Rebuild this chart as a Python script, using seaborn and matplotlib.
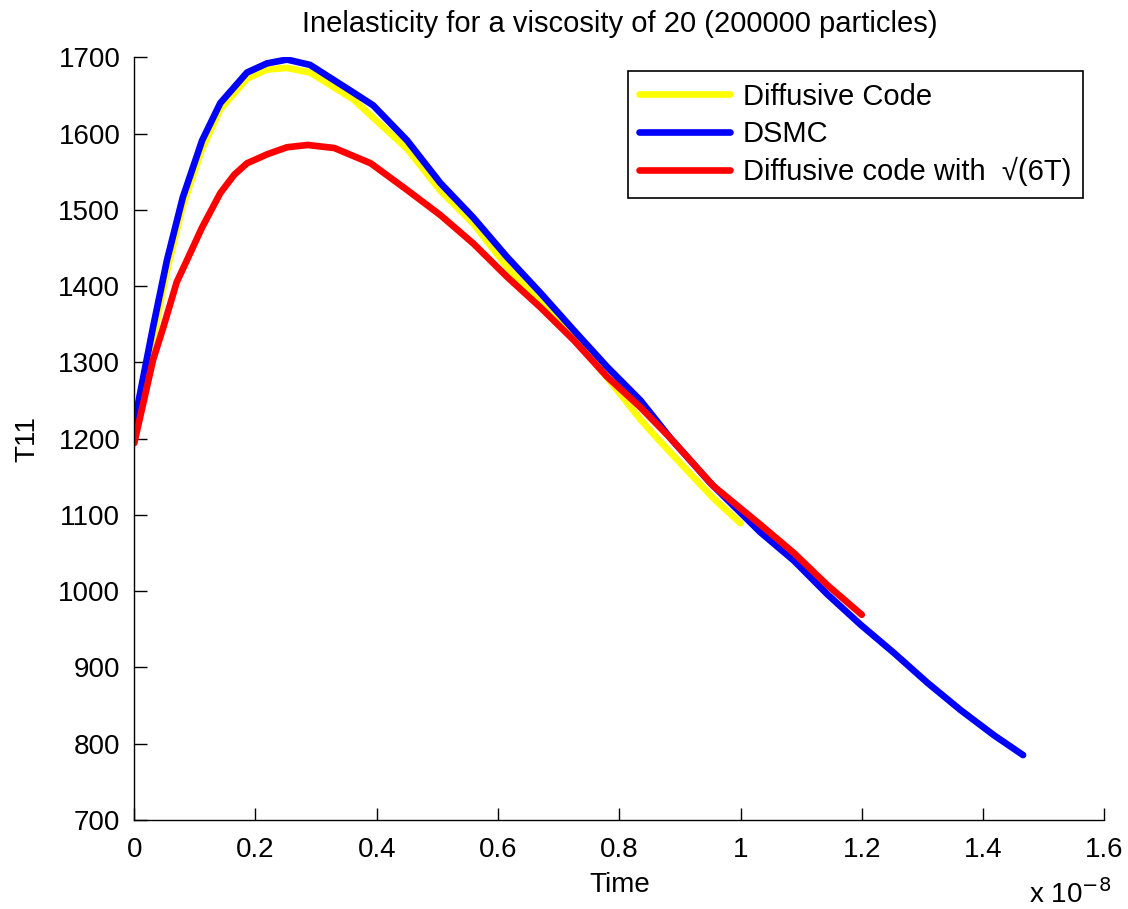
import numpy as np
import pandas as pd
import seaborn as sns
import matplotlib.pyplot as plt

# time in units of 1e-8
dsmc_t = [0, 0.031, 0.054, 0.08, 0.112, 0.142, 0.186, 0.219, 0.252, 0.29, 0.361,
          0.394, 0.45, 0.505, 0.559, 0.615, 0.67, 0.725, 0.78, 0.835, 0.885, 0.95, 1.01,
          1.033, 1.088, 1.143, 1.198, 1.253, 1.308, 1.363, 1.418, 1.466]
dsmc_v = [1220, 1346, 1434, 1516, 1591, 1640, 1680, 1692, 1697, 1690, 1654,
          1637, 1591, 1535, 1490, 1438, 1391, 1342, 1294, 1250, 1200, 1142, 1095,
          1077, 1040, 996, 956, 919, 880, 844, 811, 785]

diff_t = [0, 0.031, 0.054, 0.08, 0.112, 0.142, 0.186, 0.219, 0.252, 0.29, 0.361,
          0.45, 0.505, 0.559, 0.615, 0.67, 0.725, 0.78, 0.835, 0.863, 0.91, 0.955, 1.0]
diff_v = [1208, 1330, 1420, 1505, 1580, 1632, 1672, 1684, 1686, 1680, 1645,
          1580, 1525, 1482, 1425, 1378, 1333, 1280, 1225, 1200, 1160, 1122, 1089]

sqrt_t = [0, 0.031, 0.048, 0.07, 0.087, 0.112, 0.142, 0.165, 0.186, 0.22, 0.252, 0.286,
          0.33, 0.39, 0.45, 0.505, 0.559, 0.615, 0.67, 0.725, 0.78, 0.835, 0.885, 0.955,
          1.01, 1.033, 1.088, 1.143, 1.2]
sqrt_v = [1194, 1303, 1346, 1405, 1434, 1477, 1522, 1546, 1561, 1573, 1582, 1585,
          1581, 1561, 1526, 1493, 1456, 1412, 1372, 1329, 1281, 1241, 1200, 1138,
          1102, 1087, 1050, 1008, 969]

labels = ['Diffusive Code', 'DSMC', 'Diffusive code with  \u221a(6T)']
colors = ['#ffff00', '#0000ff', '#ff0000']

df = pd.concat([
    pd.DataFrame({'Time': diff_t, 'T11': diff_v, 'series': labels[0]}),
    pd.DataFrame({'Time': dsmc_t, 'T11': dsmc_v, 'series': labels[1]}),
    pd.DataFrame({'Time': sqrt_t, 'T11': sqrt_v, 'series': labels[2]}),
], ignore_index=True)

sns.set_style('ticks')
plt.rcParams['font.family'] = ['Liberation Sans', 'DejaVu Sans']
plt.rcParams['text.color'] = 'black'
plt.rcParams['axes.labelcolor'] = 'black'

fig = plt.figure(figsize=(11.28, 9.09), dpi=100)
ax = fig.add_axes([0.119, 0.098, 0.860, 0.839])

sns.lineplot(data=df, x='Time', y='T11', hue='series', hue_order=labels,
             palette=dict(zip(labels, colors)), estimator=None, sort=False,
             linewidth=4.8, ax=ax)

ax.set_xlim(0, 1.6)
ax.set_ylim(700, 1700)
ax.set_xticks(np.arange(0, 1.61, 0.2))
ax.set_xticklabels(['0', '0.2', '0.4', '0.6', '0.8', '1', '1.2', '1.4', '1.6'])
ax.set_yticks(np.arange(700, 1701, 100))
ax.tick_params(direction='in', length=9, width=1, labelsize=20, colors='black')
ax.tick_params(axis='x', pad=12)
ax.tick_params(axis='y', pad=10)
for s in ['top', 'right']:
    ax.spines[s].set_visible(False)
for s in ['left', 'bottom']:
    ax.spines[s].set_color('black')
    ax.spines[s].set_linewidth(1)

ax.set_xlabel('Time', fontsize=20, labelpad=7, color='black')
ax.set_ylabel('T11', fontsize=20, labelpad=13, color='black')
ax.set_title('Inelasticity for a viscosity of 20 (200000 particles)', fontsize=21,
             pad=18, color='black')
fig.text(0.912, 0.0, r'x 10$^{-8}$', fontsize=20, ha='left', va='bottom', color='black')

leg = ax.legend(loc='upper right', bbox_to_anchor=(0.978, 0.982), borderaxespad=0,
                fontsize=21, handlelength=3.1, handletextpad=0.45, frameon=True,
                fancybox=False, borderpad=0.4, labelspacing=0.32)
leg.get_frame().set_edgecolor('black')
leg.get_frame().set_linewidth(1.2)
leg.get_frame().set_alpha(1)
leg.set_title(None)
for t in leg.get_texts():
    t.set_color('black')

fig.savefig('out.png', dpi=100)
